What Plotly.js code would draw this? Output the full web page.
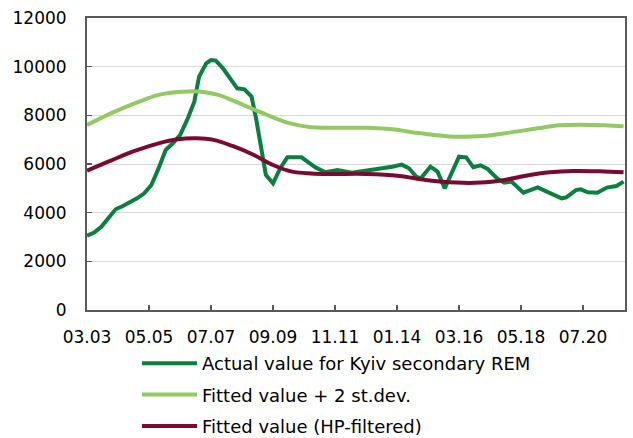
<!DOCTYPE html>
<html>
<head>
<meta charset="utf-8">
<script src="https://cdn.plot.ly/plotly-3.0.1.min.js"></script>
<style>html,body{margin:0;padding:0;background:#fff;}#chart{width:633px;height:438px;}</style>
</head>
<body>
<div id="chart"></div>
<script>
// x values are month indices counted from 03.2003
var tickMonths = [0, 26, 52, 78, 104, 130, 156, 182, 208];
var tickLabels = ["03.03", "05.05", "07.07", "09.09", "11.11", "01.14", "03.16", "05.18", "07.20"];

var actualMonths = [0, 3, 6, 9, 12, 15, 18, 21, 24, 27, 30, 33, 36, 39, 42, 45, 47, 50, 52, 54, 57, 60, 63, 66, 69, 71, 73, 75, 78, 81, 84, 90, 93, 96, 100, 105, 111, 117, 122, 128, 132, 135, 138, 140, 144, 147, 150, 153, 156, 159, 162, 165, 168, 172, 175, 178, 183, 189, 194, 199, 201, 205, 207, 210, 214, 218, 222, 225];
var actualValues = [3050, 3180, 3420, 3770, 4140, 4275, 4410, 4590, 4795, 5140, 5820, 6575, 6850, 7190, 7810, 8560, 9590, 10140, 10275, 10250, 9935, 9520, 9110, 9070, 8770, 7810, 6710, 5550, 5205, 5820, 6275, 6275, 6055, 5850, 5660, 5755, 5645, 5725, 5825, 5890, 5975, 5825, 5480, 5410, 5890, 5685, 5000, 5685, 6300, 6275, 5865, 5945, 5795, 5410, 5235, 5275, 4820, 5040, 4795, 4590, 4630, 4930, 4960, 4835, 4820, 5030, 5095, 5275];

var upperMonths = [0, 10, 20, 30, 40, 48, 55, 64, 74, 84, 94, 102, 117, 128, 140, 154, 166, 177, 189, 198, 207, 217, 225];
var upperValues = [7600, 8080, 8490, 8840, 8970, 8970, 8840, 8490, 8080, 7700, 7510, 7490, 7490, 7425, 7260, 7125, 7150, 7290, 7465, 7590, 7615, 7590, 7550];

var hpMonths = [0, 10, 20, 30, 38, 46, 53, 61, 70, 78, 86, 94, 102, 117, 131, 142, 155, 165, 175, 184, 194, 204, 215, 225];
var hpValues = [5730, 6140, 6535, 6850, 7015, 7055, 6990, 6740, 6370, 5960, 5685, 5610, 5590, 5590, 5510, 5345, 5235, 5235, 5345, 5520, 5660, 5715, 5700, 5660];

var seriesNames = ["Actual value for Kyiv secondary REM", "Fitted value + 2 st.dev.", "Fitted value (HP-filtered)"];

var traces = [
  {x: actualMonths, y: actualValues, name: seriesNames[0], legendgroup: "a", type: "scatter", mode: "lines",
   line: {color: "#0a7f3f", width: 4}},
  {x: upperMonths, y: upperValues, name: seriesNames[1], legendgroup: "b", type: "scatter", mode: "lines",
   line: {color: "#93c963", width: 4, shape: "spline"}},
  {x: hpMonths, y: hpValues, name: seriesNames[2], legendgroup: "c", type: "scatter", mode: "lines",
   line: {color: "#7b0a33", width: 4, shape: "spline"}}
];

var layout = {
  width: 633, height: 438,
  margin: {l: 87, r: 8, t: 18, b: 128, autoexpand: false},
  paper_bgcolor: "#ffffff", plot_bgcolor: "#ffffff",
  font: {family: "DejaVu Sans, Verdana, sans-serif", size: 17, color: "#000000"},
  showlegend: true,
  legend: {
    xref: "container", yref: "container", x: 137/633, y: 1 - 345/438, xanchor: "left", yanchor: "top",
    orientation: "v", traceorder: "grouped", tracegroupgap: 5, itemwidth: 55,
    font: {size: 18}, bgcolor: "rgba(0,0,0,0)"
  },
  xaxis: {
    type: "linear", range: [0, 225.6], tickmode: "array", tickvals: tickMonths, ticktext: tickLabels,
    ticks: "inside", ticklen: 5, tickwidth: 1.5, tickcolor: "#595959", tickangle: 0,
    showline: true, linecolor: "#595959", linewidth: 2, mirror: true,
    showgrid: false, zeroline: false, ticklabelstandoff: 11, fixedrange: true
  },
  yaxis: {
    range: [0, 12000], tickmode: "linear", tick0: 0, dtick: 2000, tickformat: "d",
    ticks: "inside", ticklen: 5, tickwidth: 1.5, tickcolor: "#595959",
    showline: true, linecolor: "#595959", linewidth: 2, mirror: true,
    showgrid: true, gridcolor: "#d9d9d9", gridwidth: 1, zeroline: false,
    ticklabelstandoff: 15, fixedrange: true
  }
};

Plotly.newPlot("chart", traces, layout, {displayModeBar: false, staticPlot: true});
</script>
</body>
</html>
